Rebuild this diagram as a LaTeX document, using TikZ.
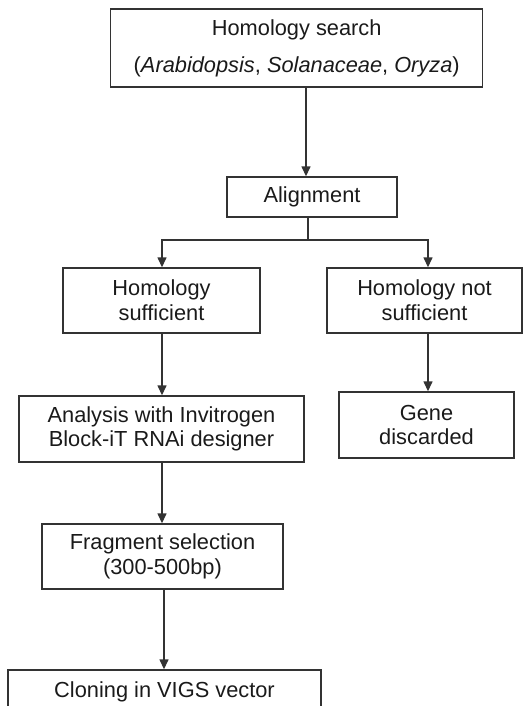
\documentclass[tikz,border=0pt]{standalone}
\usepackage{fontspec}
\setmainfont{Liberation Sans}
\usetikzlibrary{arrows.meta}
\definecolor{linec}{HTML}{333333}
\definecolor{textc}{HTML}{1A1A1A}
\begin{document}
\begin{tikzpicture}[x=1pt,y=-1pt,
  box/.style={draw=linec, line width=1.4pt, text=textc, font=\fontsize{21.8}{24.7}\selectfont, align=center, inner sep=0pt},
  arr/.style={draw=linec, line width=1.4pt, -{Triangle[width=9pt,length=10pt]}},
  ln/.style={draw=linec, line width=1.4pt}]
\useasboundingbox (0,0) rectangle (523,706);
\node[box, minimum width=372pt, minimum height=78pt, font=\fontsize{21.8}{37}\selectfont] (search) at (296.7,48) {Homology search\\(\textit{Arabidopsis}, \textit{Solanaceae}, \textit{Oryza})};
\node[box, minimum width=170pt, minimum height=40pt] (align) at (312,197) {Alignment};
\node[box, minimum width=197pt, minimum height=65pt] (suff) at (161.5,300.5) {Homology\\sufficient};
\node[box, minimum width=195pt, minimum height=65pt] (nsuff) at (424.5,300.5) {Homology not\\sufficient};
\node[box, minimum width=285pt, minimum height=66pt] (anal) at (161.5,429) {Analysis with Invitrogen\\Block-iT RNAi designer};
\node[box, minimum width=175pt, minimum height=66pt] (gene) at (426.5,425) {Gene\\discarded};
\node[box, minimum width=241pt, minimum height=65pt] (frag) at (162.5,556.5) {Fragment selection\\(300-500bp)};
\node[box, minimum width=313pt, minimum height=66pt, text depth=26pt] (clon) at (164.5,703) {Cloning in VIGS vector};
\coordinate (c1) at (306,0);
\coordinate (c2) at (308,0);
\coordinate (bar) at (0,240);
\coordinate (lx) at (162,0);
\coordinate (rx) at (428,0);
\coordinate (lx2) at (164,0);
\draw[arr] (search.south -| c1) -- (align.north -| c1);
\draw[ln] (align.south -| c2) -- (bar -| c2);
\draw[arr] (bar -| c2) -| (suff.north -| lx);
\draw[arr] (bar -| c2) -| (nsuff.north -| rx);
\draw[arr] (suff.south -| lx) -- (anal.north -| lx);
\draw[arr] (nsuff.south -| rx) -- (gene.north -| rx);
\draw[arr] (anal.south -| lx) -- (frag.north -| lx);
\draw[arr] (frag.south -| lx2) -- (clon.north -| lx2);
\end{tikzpicture}
\end{document}
